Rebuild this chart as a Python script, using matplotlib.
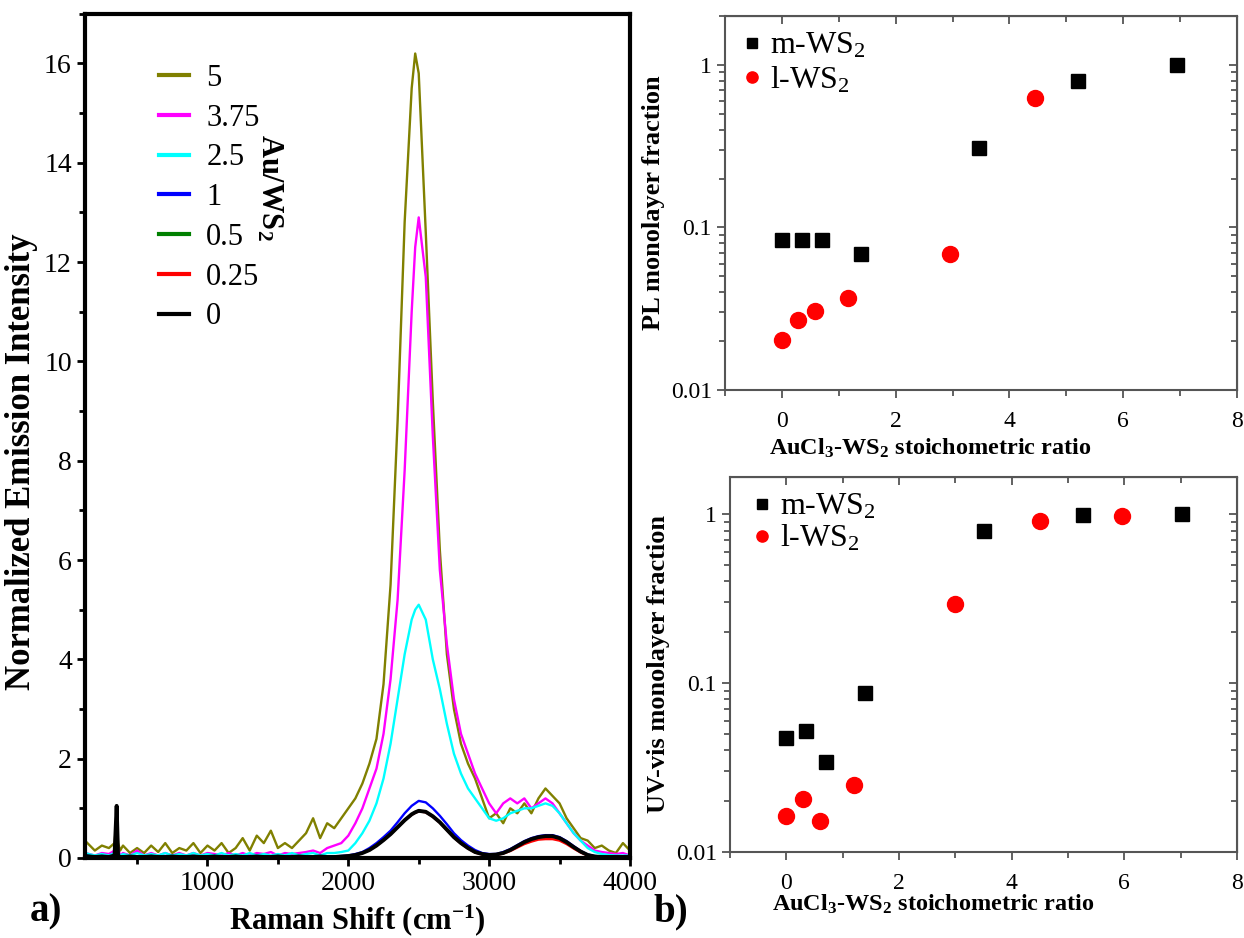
import matplotlib
matplotlib.use("Agg")
import matplotlib.pyplot as plt
from matplotlib.ticker import MultipleLocator, LogLocator, NullFormatter, FixedLocator, FixedFormatter

plt.rcParams["font.family"] = ["Liberation Serif", "DejaVu Serif"]
plt.rcParams["mathtext.default"] = "regular"

# --- panel a) emission spectra ---
raman_shift = [130, 200, 250, 300, 340, 355, 365, 380,
               400, 450, 500, 550, 600, 650, 700, 750, 800, 850, 900, 950,
               1000, 1050, 1100, 1150, 1200, 1250, 1300, 1350, 1400, 1450,
               1500, 1550, 1600, 1650, 1700, 1750, 1800, 1850, 1900, 1950,
               2000, 2050, 2100, 2150, 2200, 2250, 2300, 2350, 2400, 2450, 2475,
               2500, 2550, 2600, 2650, 2700, 2750, 2800, 2850, 2900, 2950,
               3000, 3050, 3100, 3150, 3200, 3250, 3300, 3350, 3400, 3450,
               3500, 3550, 3600, 3650, 3700, 3750, 3800, 3850, 3900, 3950, 4000]

em_5 = [0.35, 0.15, 0.25, 0.2, 0.3, 0.8, 0.3, 0.15,
        0.25, 0.1, 0.2, 0.1, 0.25, 0.12, 0.3, 0.1, 0.2, 0.15, 0.3, 0.1,
        0.25, 0.15, 0.3, 0.1, 0.2, 0.4, 0.15, 0.45, 0.3, 0.55,
        0.2, 0.3, 0.2, 0.35, 0.5, 0.8, 0.4, 0.7, 0.6, 0.8,
        1.0, 1.2, 1.5, 1.9, 2.4, 3.5, 5.5, 8.8, 12.8, 15.5, 16.2,
        15.8, 12.6, 9.2, 6.2, 4.1, 3.0, 2.3, 1.9, 1.6, 1.2,
        0.8, 0.9, 0.7, 1.0, 0.9, 1.1, 0.9, 1.2, 1.4, 1.25,
        1.1, 0.8, 0.6, 0.4, 0.35, 0.2, 0.25, 0.15, 0.1, 0.3, 0.15]

em_375 = [0.1, 0.05, 0.1, 0.08, 0.15, 0.9, 0.2, 0.05,
          0.1, 0.05, 0.15, 0.05, 0.1, 0.05, 0.1, 0.05, 0.1, 0.05, 0.1, 0.05,
          0.1, 0.08, 0.05, 0.1, 0.05, 0.1, 0.05, 0.1, 0.08, 0.12,
          0.05, 0.1, 0.08, 0.1, 0.12, 0.15, 0.1, 0.2, 0.25, 0.3,
          0.45, 0.7, 1.0, 1.4, 1.8, 2.5, 3.6, 5.2, 7.8, 11.0, 12.3,
          12.9, 11.7, 8.5, 5.8, 4.3, 3.2, 2.5, 2.1, 1.7, 1.4,
          1.1, 0.9, 1.1, 1.2, 1.1, 1.2, 1.0, 1.1, 1.2, 1.1,
          0.9, 0.7, 0.5, 0.35, 0.25, 0.15, 0.12, 0.1, 0.08, 0.1, 0.05]

em_25 = [0.1, 0.05, 0.08, 0.05, 0.1, 0.7, 0.1, 0.05,
         0.08, 0.05, 0.1, 0.05, 0.08, 0.05, 0.1, 0.05, 0.08, 0.05, 0.1, 0.05,
         0.08, 0.05, 0.1, 0.05, 0.08, 0.05, 0.1, 0.05, 0.08, 0.05,
         0.08, 0.05, 0.1, 0.05, 0.08, 0.1, 0.05, 0.1, 0.1, 0.12,
         0.15, 0.3, 0.5, 0.75, 1.1, 1.6, 2.3, 3.2, 4.1, 4.8, 5.0,
         5.1, 4.8, 4.0, 3.4, 2.7, 2.1, 1.7, 1.4, 1.2, 1.0,
         0.8, 0.75, 0.8, 0.9, 0.95, 1.0, 1.0, 1.05, 1.1, 1.05,
         0.9, 0.7, 0.5, 0.35, 0.2, 0.12, 0.08, 0.06, 0.05, 0.05, 0.05]

em_1 = [0.05, 0.03, 0.04, 0.03, 0.05, 0.85, 0.05, 0.03,
        0.03, 0.04, 0.03, 0.03, 0.04, 0.03, 0.03, 0.04, 0.03, 0.03, 0.04, 0.03,
        0.03, 0.04, 0.03, 0.03, 0.04, 0.03, 0.03, 0.04, 0.03, 0.03,
        0.04, 0.03, 0.03, 0.04, 0.03, 0.03, 0.04, 0.03, 0.03, 0.04,
        0.05, 0.08, 0.12, 0.2, 0.3, 0.42, 0.55, 0.72, 0.9, 1.05, 1.1,
        1.15, 1.12, 1.0, 0.85, 0.68, 0.5, 0.36, 0.25, 0.16, 0.1,
        0.08, 0.08, 0.12, 0.18, 0.26, 0.34, 0.4, 0.44, 0.46, 0.46,
        0.42, 0.34, 0.24, 0.14, 0.07, 0.04, 0.03, 0.03, 0.03, 0.03, 0.03]

em_05 = [0.04, 0.02, 0.03, 0.02, 0.05, 1.0, 0.05, 0.02,
         0.02, 0.03, 0.02, 0.02, 0.03, 0.02, 0.02, 0.03, 0.02, 0.02, 0.03, 0.02,
         0.02, 0.03, 0.02, 0.02, 0.03, 0.02, 0.02, 0.03, 0.02, 0.02,
         0.03, 0.02, 0.02, 0.03, 0.02, 0.02, 0.03, 0.02, 0.02, 0.03,
         0.04, 0.06, 0.1, 0.16, 0.25, 0.36, 0.48, 0.62, 0.76, 0.88, 0.92,
         0.95, 0.93, 0.84, 0.72, 0.57, 0.42, 0.3, 0.2, 0.12, 0.08,
         0.06, 0.07, 0.1, 0.16, 0.24, 0.32, 0.38, 0.41, 0.43, 0.43,
         0.39, 0.31, 0.21, 0.12, 0.06, 0.03, 0.02, 0.02, 0.02, 0.02, 0.02]

em_025 = [0.04, 0.02, 0.03, 0.02, 0.05, 0.95, 0.05, 0.02,
          0.02, 0.03, 0.02, 0.02, 0.03, 0.02, 0.02, 0.03, 0.02, 0.02, 0.03, 0.02,
          0.02, 0.03, 0.02, 0.02, 0.03, 0.02, 0.02, 0.03, 0.02, 0.02,
          0.03, 0.02, 0.02, 0.03, 0.02, 0.02, 0.03, 0.02, 0.02, 0.03,
          0.04, 0.06, 0.1, 0.16, 0.25, 0.36, 0.48, 0.62, 0.76, 0.87, 0.91,
          0.94, 0.92, 0.83, 0.71, 0.56, 0.41, 0.29, 0.19, 0.11, 0.07,
          0.05, 0.06, 0.09, 0.14, 0.21, 0.28, 0.33, 0.37, 0.38, 0.38,
          0.35, 0.28, 0.19, 0.11, 0.05, 0.03, 0.02, 0.02, 0.02, 0.02, 0.02]

em_0 = [0.04, 0.02, 0.03, 0.02, 0.05, 1.05, 0.05, 0.02,
        0.02, 0.03, 0.02, 0.02, 0.03, 0.02, 0.02, 0.03, 0.02, 0.02, 0.03, 0.02,
        0.02, 0.03, 0.02, 0.02, 0.03, 0.02, 0.02, 0.03, 0.02, 0.02,
        0.03, 0.02, 0.02, 0.03, 0.02, 0.02, 0.03, 0.02, 0.02, 0.03,
        0.04, 0.06, 0.1, 0.16, 0.25, 0.36, 0.48, 0.62, 0.76, 0.88, 0.92,
        0.95, 0.93, 0.84, 0.72, 0.57, 0.42, 0.3, 0.2, 0.12, 0.08,
        0.06, 0.07, 0.1, 0.16, 0.24, 0.32, 0.38, 0.42, 0.44, 0.44,
        0.4, 0.32, 0.22, 0.13, 0.06, 0.03, 0.02, 0.02, 0.02, 0.02, 0.02]

ratio_labels = ["5", "3.75", "2.5", "1", "0.5", "0.25", "0"]
spectra = [em_5, em_375, em_25, em_1, em_05, em_025, em_0]
colors = ["#808000", "#ff00ff", "#00ffff", "#0000ff", "#008000", "#ff0000", "#000000"]

# --- panel b) monolayer fractions ---
pl_m_x = [0, 0.35, 0.7, 1.39, 3.47, 5.21, 6.95]
pl_m_y = [0.084, 0.084, 0.084, 0.069, 0.31, 0.8, 1.0]
pl_l_x = [0, 0.29, 0.58, 1.16, 2.95, 4.45]
pl_l_y = [0.0203, 0.027, 0.0305, 0.037, 0.069, 0.63]

uv_m_x = [0, 0.35, 0.7, 1.4, 3.5, 5.27, 7.03]
uv_m_y = [0.047, 0.052, 0.034, 0.087, 0.79, 0.99, 1.0]
uv_l_x = [0, 0.29, 0.6, 1.2, 3.0, 4.5, 5.96]
uv_l_y = [0.0163, 0.0206, 0.0152, 0.0249, 0.293, 0.91, 0.98]

fig = plt.figure(figsize=(12.44, 9.38), dpi=100)

# left panel
ax = fig.add_axes([0.0683, 0.0853, 0.4381, 0.9], zorder=1)
for y, c, lab in zip(spectra, colors, ratio_labels):
    lw = 2.8 if c == "#000000" else 1.7
    ax.plot(raman_shift, y, color=c, lw=lw, label=lab)
ax.set_xlim(130, 4000)
ax.set_ylim(0, 17)
ax.xaxis.set_major_locator(FixedLocator([1000, 2000, 3000, 4000]))
ax.xaxis.set_minor_locator(MultipleLocator(500))
ax.yaxis.set_major_locator(MultipleLocator(2))
ax.yaxis.set_minor_locator(MultipleLocator(1))
for s in ax.spines.values():
    s.set_linewidth(3)
ax.tick_params(which="both", direction="out", width=2, labelsize=20)
ax.tick_params(which="major", length=6)
ax.tick_params(which="minor", length=4)
ax.set_xlabel("Raman Shift (cm$^{-1}$)", fontsize=22, fontweight="bold", labelpad=4)
ax.set_ylabel("Normalized Emission Intensity", fontsize=25, fontweight="bold")
ax.yaxis.set_label_coords(-0.087, 0.47)
leg = ax.legend(loc="upper left", bbox_to_anchor=(0.085, 0.973), frameon=False, fontsize=22,
                handlelength=1.0, handletextpad=0.55, labelspacing=0.35)
for h in leg.get_lines():
    h.set_linewidth(3)
ax.text(0.338, 0.794, "Au/WS$_2$", transform=ax.transAxes, rotation=-90,
        ha="center", va="center", fontsize=22, fontweight="bold")


def style_right(a, xlab_y):
    for s in a.spines.values():
        s.set_linewidth(1.5)
        s.set_color("#555555")
    a.set_xlim(-1, 8)
    a.xaxis.set_major_locator(MultipleLocator(2))
    a.xaxis.set_minor_locator(MultipleLocator(1))
    a.yaxis.set_minor_locator(LogLocator(base=10, subs=range(2, 10), numticks=10))
    a.yaxis.set_minor_formatter(NullFormatter())
    a.yaxis.set_major_locator(FixedLocator([0.01, 0.1, 1]))
    a.yaxis.set_major_formatter(FixedFormatter(["0.01", "0.1", "1"]))
    a.tick_params(which="both", direction="out", color="#555555", width=1.3, labelsize=17)
    a.tick_params(which="major", length=6)
    a.tick_params(which="minor", length=4)
    a.tick_params(axis="x", which="major", pad=9)
    sx = a.secondary_xaxis("top")
    sx.xaxis.set_major_locator(MultipleLocator(2))
    sx.xaxis.set_minor_locator(MultipleLocator(1))
    sx.tick_params(which="both", direction="in", color="#555555", width=1.3, labeltop=False)
    sx.tick_params(which="major", length=6)
    sx.tick_params(which="minor", length=4)
    sy = a.secondary_yaxis("right")
    sy.tick_params(which="both", direction="in", color="#555555", width=1.3, labelright=False)
    sy.tick_params(which="major", length=6)
    sy.tick_params(which="minor", length=4)
    a.set_xlabel("AuCl$_3$-WS$_2$ stoichometric ratio", fontsize=17.5, fontweight="bold")
    a.xaxis.set_label_coords(0.40, xlab_y)


# top right panel
ax1 = fig.add_axes([0.5828, 0.5842, 0.4116, 0.3987])
ax1.set_yscale("log")
ax1.set_ylim(0.01, 2.0)
ax1.plot(pl_m_x, pl_m_y, "s", color="black", ms=10.5, label="m-WS$_2$")
ax1.plot(pl_l_x, pl_l_y, "o", color="#ff0000", ms=11.5, label="l-WS$_2$")
style_right(ax1, -0.125)
ax1.set_ylabel("PL monolayer fraction", fontsize=19, fontweight="bold", labelpad=4)
ax1.legend(loc="upper left", bbox_to_anchor=(0.0, 1.01), frameon=False, fontsize=23,
           markerscale=0.7, handlelength=0.5, handletextpad=0.3, labelspacing=0.12,
           borderaxespad=0.2)

# bottom right panel
ax2 = fig.add_axes([0.5868, 0.0917, 0.4076, 0.3998])
ax2.set_yscale("log")
ax2.set_ylim(0.01, 1.66)
ax2.plot(uv_m_x, uv_m_y, "s", color="black", ms=10.5, label="m-WS$_2$")
ax2.plot(uv_l_x, uv_l_y, "o", color="#ff0000", ms=11.5, label="l-WS$_2$")
style_right(ax2, -0.108)
ax2.set_ylabel("UV-vis monolayer fraction", fontsize=19, fontweight="bold", labelpad=4)
ax2.legend(loc="upper left", bbox_to_anchor=(0.01, 1.01), frameon=False, fontsize=23,
           markerscale=0.7, handlelength=0.5, handletextpad=0.3, labelspacing=0.05,
           borderaxespad=0.2)

fig.text(0.024, 0.018, "a)", fontsize=28, fontweight="bold")
fig.text(0.525, 0.018, "b)", fontsize=28, fontweight="bold")

fig.savefig("out.png", dpi=100)
